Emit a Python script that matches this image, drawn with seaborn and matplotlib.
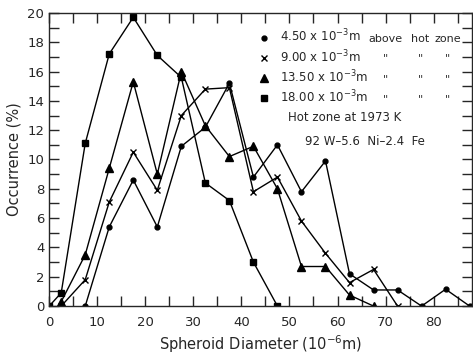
import matplotlib
matplotlib.use("Agg")
import matplotlib.pyplot as plt
from matplotlib.lines import Line2D
from matplotlib.ticker import MultipleLocator
import pandas as pd
import seaborn as sns

# spheroid diameter bin midpoints (10^-6 m) and occurrence (%)
d_450 = [7.5, 12.5, 17.5, 22.5, 27.5, 32.5, 37.5, 42.5, 47.5, 52.5, 57.5, 62.5, 67.5, 72.5, 77.5, 82.5, 87.5]
occ_450 = [0.0, 5.4, 8.6, 5.4, 10.9, 12.2, 15.2, 8.8, 11.0, 7.8, 9.9, 2.2, 1.1, 1.1, 0.0, 1.15, 0.0]

d_900 = [2.5, 7.5, 12.5, 17.5, 22.5, 27.5, 32.5, 37.5, 42.5, 47.5, 52.5, 57.5, 62.5, 67.5, 72.5]
occ_900 = [0.0, 1.8, 7.1, 10.5, 7.9, 13.0, 14.8, 14.9, 7.8, 8.8, 5.8, 3.6, 1.6, 2.5, 0.0]

d_1350 = [2.5, 7.5, 12.5, 17.5, 22.5, 27.5, 32.5, 37.5, 42.5, 47.5, 52.5, 57.5, 62.5, 67.5]
occ_1350 = [0.3, 3.5, 9.4, 15.3, 9.0, 16.0, 12.3, 10.2, 10.9, 8.0, 2.7, 2.7, 0.75, 0.0]

d_1800 = [0.0, 2.5, 7.5, 12.5, 17.5, 22.5, 27.5, 32.5, 37.5, 42.5, 47.5]
occ_1800 = [0.0, 0.9, 11.1, 17.2, 19.7, 17.1, 15.6, 8.4, 7.2, 3.0, 0.0]

heights = ["4.50", "9.00", "13.50", "18.00"]
markers = ["o", "x", "^", "s"]
msizes = [3.5, 5.0, 5.5, 4.0]
note_words = ["above", "hot", "zone"]

series = [(d_450, occ_450), (d_900, occ_900), (d_1350, occ_1350), (d_1800, occ_1800)]

sns.set_style("ticks")
plt.rcParams["font.family"] = ["DejaVu Sans"]

fig = plt.figure(figsize=(4.73, 3.58), dpi=100)
ax = fig.add_axes([0.104, 0.145, 0.894, 0.819])

for (xs, ys), h, m, ms in zip(series, heights, markers, msizes):
    df = pd.DataFrame({"diameter": xs, "occurrence": ys})
    sns.lineplot(data=df, x="diameter", y="occurrence", ax=ax, color="black",
                 marker=m, markersize=ms, markeredgecolor="black",
                 markeredgewidth=1.0, linewidth=1.0, label=None)

ax.set_xlim(0, 88)
ax.set_ylim(0, 20)
ax.xaxis.set_major_locator(MultipleLocator(10))
ax.xaxis.set_minor_locator(MultipleLocator(5))
ax.yaxis.set_major_locator(MultipleLocator(2))
ax.yaxis.set_minor_locator(MultipleLocator(1))
ax.tick_params(which="both", direction="in", top=True, right=True, labelsize=9.5, width=1.0)
ax.tick_params(which="both", length=7)
ax.tick_params(axis="x", pad=7)
for s in ax.spines.values():
    s.set_linewidth(1.0)

ax.set_xlabel("Spheroid Diameter (10$^{-6}$m)", fontsize=10.5, labelpad=3)
ax.set_ylabel("Occurrence (%)", fontsize=10.5, labelpad=4)

handles = [Line2D([], [], color="black", marker=m, ls="none", markersize=ms)
           for m, ms in zip(markers, msizes)]
labels = [h + " x 10$^{-3}$m" for h in heights]
ax.legend(handles, labels, loc="upper left", bbox_to_anchor=(0.48, 0.972),
          frameon=False, fontsize=8.5, handlelength=0.8, handletextpad=1.0,
          labelspacing=0.3, borderaxespad=0.2)

# "above hot zone" on the first row, ditto marks under it
row_y = [0.912, 0.845, 0.775, 0.707]
col_x = [0.796, 0.877, 0.943]
for i, y in enumerate(row_y):
    for word, x in zip(note_words, col_x):
        ax.text(x, y, word if i == 0 else '"', transform=ax.transAxes,
                fontsize=8, ha="center", va="center")

ax.text(0.564, 0.642, "Hot zone at 1973 K", transform=ax.transAxes,
        fontsize=8.5, va="center")
ax.text(0.604, 0.563, "92 W\u20135.6  Ni\u20132.4  Fe", transform=ax.transAxes,
        fontsize=8.5, va="center")

fig.savefig("out.png", dpi=100)
